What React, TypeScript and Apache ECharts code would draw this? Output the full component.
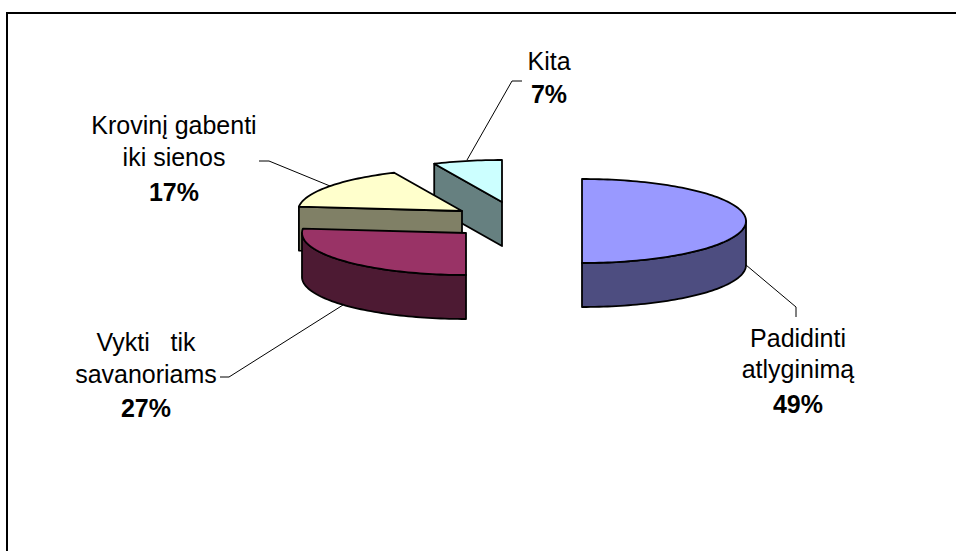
import React, { useEffect, useRef } from "react";
import * as echarts from "echarts";

const categories = ["Padidinti\natlyginimą", "Vykti   tik\nsavanoriams", "Krovinį gabenti\niki sienos", "Kita"];
const shares = [49, 27, 17, 7];
const topColors = ["#9999ff", "#993366", "#ffffcc", "#ccffff"];
const sideColors = ["#4d4d80", "#4d1a33", "#808066", "#668080"];

// Exploded pie geometry in pixels: each slice has its own apex.
const RX = 164;
const RY = 42;
const DEPTH = 44;
const PERSPECTIVE_SHIFT = 3.6;
const apexes = [
  [582, 221],
  [466, 233],
  [462, 211],
  [502, 202],
];

// Label placement: centre x and the baseline of each line, then the leader polyline.
const labelPlacement = [
  { x: 798, baselines: [346, 377, 412], leader: [[746, 265], [796, 307], [796, 317]] },
  { x: 146, baselines: [350, 382, 416], leader: [[220, 377], [229, 377], [343, 305]] },
  { x: 174, baselines: [133, 165, 200], leader: [[259, 161], [269, 161], [330, 186]] },
  { x: 549, baselines: [69, 102], leader: [[522, 81], [512, 81], [467, 160]] },
];

const FONT_SIZE = 25;
const FONT_FAMILY = "'Liberation Sans', Arial, sans-serif";

const rad = (deg: number) => (deg * Math.PI) / 180;

// The tilted pie's perspective opens the front of the disc a little, so a true
// pie angle lands slightly further round the drawn ellipse.
const projectAngle = (deg: number) => deg + PERSPECTIVE_SHIFT * Math.sin(rad(deg / 2));

// Angles run clockwise from the back of the pie (top of the ellipse).
function rimPoint(apex: number[], deg: number, drop = 0): number[] {
  return [apex[0] + RX * Math.sin(rad(deg)), apex[1] - RY * Math.cos(rad(deg)) + drop];
}

function arcPoints(apex: number[], from: number, to: number, drop = 0): number[][] {
  const steps = Math.max(2, Math.ceil(Math.abs(to - from) / 1.5));
  const pts: number[][] = [];
  for (let i = 0; i <= steps; i++) pts.push(rimPoint(apex, from + ((to - from) * i) / steps, drop));
  return pts;
}

const edgeStyle = (fill: string) => ({
  fill,
  stroke: "#000",
  lineWidth: 1.8,
  lineJoin: "round",
});

function cutFace(apex: number[], deg: number, fill: string) {
  const rim = rimPoint(apex, deg);
  return {
    type: "polygon",
    shape: { points: [apex, rim, [rim[0], rim[1] + DEPTH], [apex[0], apex[1] + DEPTH]] },
    style: edgeStyle(fill),
  };
}

function renderSlice(_params: any, api: any) {
  const index = api.value(0) as number;
  const start = api.value(1) as number;
  const end = api.value(2) as number;
  const value = api.value(3) as number;
  const apex = apexes[index];
  const children: any[] = [];

  // Cut faces turned towards the viewer
  if (Math.sin(rad(start)) < -1e-3) children.push(cutFace(apex, start, sideColors[index]));
  if (Math.sin(rad(end)) > 1e-3) children.push(cutFace(apex, end, sideColors[index]));

  // Outer wall along the front half of the rim
  const wallFrom = Math.max(start, 90);
  const wallTo = Math.min(end, 270);
  if (wallTo > wallFrom) {
    children.push({
      type: "polygon",
      shape: {
        points: [...arcPoints(apex, wallFrom, wallTo), ...arcPoints(apex, wallTo, wallFrom, DEPTH)],
      },
      style: edgeStyle(sideColors[index]),
    });
  }

  // Top face
  children.push({
    type: "polygon",
    shape: { points: [apex, ...arcPoints(apex, start, end)] },
    style: edgeStyle(topColors[index]),
  });

  const place = labelPlacement[index];
  children.push({
    type: "polyline",
    shape: { points: place.leader },
    style: { fill: "none", stroke: "#000", lineWidth: 1 },
  });

  const lines = [...categories[index].split("\n"), `${value}%`];
  lines.forEach((text, i) => {
    const bold = i === lines.length - 1;
    children.push({
      type: "text",
      style: {
        x: place.x,
        y: place.baselines[i] - 8.5,
        text,
        fill: "#000",
        align: "center",
        verticalAlign: "middle",
        font: `${bold ? "bold " : ""}${FONT_SIZE}px ${FONT_FAMILY}`,
      },
    });
  });

  return { type: "group", children };
}

export default function App() {
  const ref = useRef<HTMLDivElement>(null);

  useEffect(() => {
    if (!ref.current) return;
    const chart = echarts.init(ref.current, null, { renderer: "svg" });

    let cumulative = 0;
    const rows = shares.map((value, i) => {
      const startAngle = projectAngle((cumulative / 100) * 360);
      cumulative += value;
      return [i, startAngle, projectAngle((cumulative / 100) * 360), value];
    });

    chart.setOption({
      animation: false,
      backgroundColor: "#fff",
      graphic: [
        { type: "line", shape: { x1: 6, y1: 13, x2: 956, y2: 13 }, style: { stroke: "#000", lineWidth: 2 } },
        { type: "line", shape: { x1: 7, y1: 12, x2: 7, y2: 551 }, style: { stroke: "#000", lineWidth: 2 } },
      ],
      series: [
        {
          type: "custom",
          coordinateSystem: "none",
          renderItem: renderSlice,
          // Painted back to front: Kita, then the yellow slice, the maroon one, the blue one.
          data: [...rows].reverse(),
          silent: true,
        },
      ],
    });

    return () => chart.dispose();
  }, []);

  return <div ref={ref} style={{ position: "fixed", left: 0, top: 0, width: 956, height: 551 }} />;
}
